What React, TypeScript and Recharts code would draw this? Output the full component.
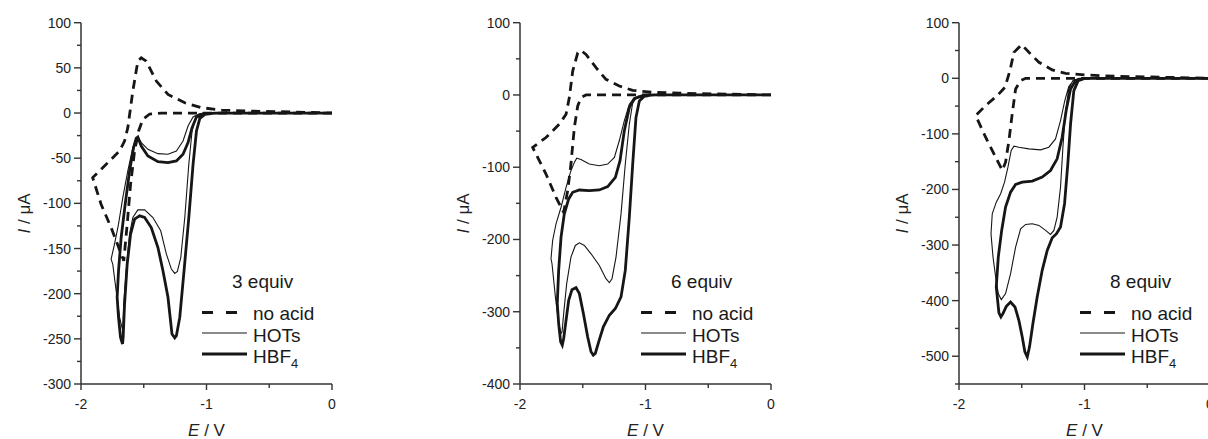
import { LineChart, Line, XAxis, YAxis, Label } from 'recharts';

type Pt = [number, number];

// E / V ticks shared by all three panels
const potentialTicks = [-2, -1.5, -1, -0.5, 0];
const potentialLabels = [-2, -1, 0];

const equivLabels = ['3 equiv', '6 equiv', '8 equiv'];

// current axes (µA)
const currentTicks3 = [-300, -275, -250, -225, -200, -175, -150, -125, -100, -75, -50, -25, 0, 25, 50, 75, 100];
const currentLabels3 = [-300, -250, -200, -150, -100, -50, 0, 50, 100];
const currentTicks6 = [-400, -350, -300, -250, -200, -150, -100, -50, 0, 50, 100];
const currentLabels6 = [-400, -300, -200, -100, 0, 100];
const currentTicks8 = [-550, -500, -450, -400, -350, -300, -250, -200, -150, -100, -50, 0, 50, 100];
const currentLabels8 = [-500, -400, -300, -200, -100, 0, 100];

// 3 equiv panel: [E, I]
const noAcid3: Pt[] = [
  [0, 0], [-1.36, 0], [-1.453, -1.1], [-1.507, -7], [-1.541, -19.9], [-1.573, -42], [-1.605, -78.9],
  [-1.632, -123], [-1.659, -163.6], [-1.76, -126.8], [-1.84, -101], [-1.907, -71.5],
  [-1.813, -58.6], [-1.693, -42], [-1.653, -31], [-1.627, -16.2], [-1.587, 24.3], [-1.547, 57.5],
  [-1.52, 61.2], [-1.48, 57.5], [-1.4, 35.4], [-1.307, 20.6], [-1.173, 11.4], [-1.04, 5.9],
  [-0.88, 3.3], [-0.667, 2.2], [-0.293, 1.1], [0, 0],
];
const hots3: Pt[] = [
  [0, 0], [-0.987, 0], [-1.053, -1.5], [-1.088, -5.9], [-1.115, -19.9], [-1.141, -56.7], [-1.173, -115.7],
  [-1.205, -160], [-1.232, -175.4], [-1.253, -177.6], [-1.28, -172.8], [-1.32, -156], [-1.365, -130.4],
  [-1.427, -115.7], [-1.493, -107.2], [-1.547, -107.2], [-1.587, -115.7], [-1.613, -134], [-1.64, -174.7],
  [-1.659, -211.5], [-1.667, -241], [-1.693, -226], [-1.72, -196.8], [-1.747, -167.3], [-1.76, -161.8],
  [-1.733, -145.2], [-1.701, -123], [-1.667, -93.6], [-1.627, -64.1], [-1.587, -38.3], [-1.56, -27.3],
  [-1.547, -26.5], [-1.52, -32.8], [-1.467, -40.2], [-1.387, -45], [-1.307, -45.7], [-1.24, -42],
  [-1.187, -31], [-1.147, -14.4], [-1.107, -4.4], [-1.053, -0.7], [-0.933, 0], [0, 0],
];
const hbf3: Pt[] = [
  [0, 0], [-0.933, 0], [-1.013, -1.5], [-1.053, -5.9], [-1.08, -19.9], [-1.107, -56.7], [-1.141, -115.7],
  [-1.179, -174.7], [-1.213, -226.3], [-1.24, -246.5], [-1.253, -249], [-1.275, -244.7], [-1.307, -204],
  [-1.347, -174.7], [-1.387, -148.9], [-1.44, -126.8], [-1.493, -115.7], [-1.533, -113.9], [-1.573, -117.5],
  [-1.605, -134], [-1.632, -167.3], [-1.653, -211.5], [-1.664, -248.4], [-1.669, -255.7], [-1.685, -248.4],
  [-1.701, -226.3], [-1.712, -204], [-1.701, -174.7], [-1.68, -137.8], [-1.648, -101], [-1.613, -64.1],
  [-1.581, -38.3], [-1.56, -28], [-1.547, -26.5], [-1.52, -36.5], [-1.467, -47.5], [-1.387, -53.8],
  [-1.307, -54.9], [-1.24, -53], [-1.187, -45.7], [-1.147, -32.8], [-1.115, -16.2], [-1.08, -4.4],
  [-1.027, -0.7], [-0.907, 0], [0, 0],
];

// 6 equiv panel
const noAcid6: Pt[] = [
  [0, 0], [-1.474, 0], [-1.514, -3.7], [-1.54, -15.2], [-1.567, -45.1], [-1.594, -95.6], [-1.62, -132.4],
  [-1.652, -162.3], [-1.713, -141.6], [-1.793, -109.4], [-1.899, -72.6],
  [-1.793, -58.9], [-1.687, -40.5], [-1.633, -26.7], [-1.607, -3.7], [-1.58, 33.1], [-1.54, 58.4],
  [-1.514, 61.6], [-1.474, 56.1], [-1.394, 37.7], [-1.315, 21.6], [-1.209, 12.4], [-1.102, 6.4],
  [-0.943, 3.7], [-0.704, 2.3], [0, 0],
];
const hots6: Pt[] = [
  [0, 0], [-0.996, 0], [-1.062, -1.8], [-1.102, -10.6], [-1.129, -40.5], [-1.161, -95.6], [-1.195, -164.6],
  [-1.235, -224.4], [-1.267, -254.3], [-1.288, -259.8], [-1.315, -254.3], [-1.368, -235.9], [-1.434, -219.8],
  [-1.487, -208.3], [-1.527, -204.6], [-1.559, -208.3], [-1.594, -224.4], [-1.628, -261.1], [-1.652, -302.5],
  [-1.665, -327.8], [-1.673, -330.1], [-1.692, -316.3], [-1.718, -279.5], [-1.745, -233.6], [-1.753, -226.7],
  [-1.74, -201.4], [-1.713, -178.4], [-1.673, -155.4], [-1.633, -127.8], [-1.594, -104.8], [-1.567, -93.3],
  [-1.548, -87.4], [-1.514, -89.2], [-1.448, -95.6], [-1.368, -97.9], [-1.301, -95.6], [-1.248, -86.4],
  [-1.209, -63.4], [-1.169, -35.9], [-1.129, -12.9], [-1.089, -3.7], [-1.023, -0.5], [-0.943, 0], [0, 0],
];
const hbf6: Pt[] = [
  [0, 0], [-0.943, 0], [-1.009, -1.8], [-1.049, -8.3], [-1.076, -31.3], [-1.102, -95.6], [-1.129, -169.2],
  [-1.161, -242.8], [-1.195, -279.5], [-1.24, -295.6], [-1.288, -304.8], [-1.336, -320.9], [-1.373, -341.6],
  [-1.4, -357.7], [-1.416, -360], [-1.434, -355.4], [-1.461, -334.7], [-1.495, -302.5], [-1.527, -274.9],
  [-1.554, -266.7], [-1.586, -269.4], [-1.612, -284.1], [-1.633, -311.7], [-1.652, -337], [-1.663, -346.2],
  [-1.676, -341.6], [-1.692, -316.3], [-1.703, -288.7], [-1.692, -242.8], [-1.673, -196.8], [-1.647, -164.6],
  [-1.612, -143.9], [-1.58, -134.7], [-1.527, -131.5], [-1.448, -132.4], [-1.368, -131.5], [-1.301, -126.9],
  [-1.24, -114], [-1.203, -91], [-1.169, -49.7], [-1.129, -17.5], [-1.089, -5.1], [-1.023, -0.9],
  [-0.916, 0], [0, 0],
];

// 8 equiv panel
const noAcid8: Pt[] = [
  [0, 0], [-1.469, 0], [-1.509, -4.2], [-1.549, -19.2], [-1.576, -64.1], [-1.602, -112], [-1.629, -150.9],
  [-1.655, -165.9], [-1.708, -141.9], [-1.788, -106], [-1.867, -67.1],
  [-1.788, -49.1], [-1.695, -31.1], [-1.634, -16.2], [-1.594, 13.8], [-1.562, 46.7], [-1.501, 60.5],
  [-1.443, 46.7], [-1.363, 28.7], [-1.257, 15], [-1.151, 9], [-0.992, 6], [-0.753, 3.6], [-0.355, 1.8], [0, 0],
];
const hots8: Pt[] = [
  [0, 0], [-1.045, 0], [-1.093, -4.2], [-1.125, -19.2], [-1.151, -58.1], [-1.172, -124], [-1.191, -195.8],
  [-1.218, -249.7], [-1.244, -273.7], [-1.271, -280.8], [-1.31, -273.7], [-1.363, -264.7], [-1.416, -261.7],
  [-1.469, -262.9], [-1.509, -270.7], [-1.549, -303.6], [-1.589, -351.5], [-1.629, -387.4], [-1.663, -398.2],
  [-1.687, -387.4], [-1.708, -357.5], [-1.729, -321.6], [-1.745, -279.6], [-1.735, -243.7], [-1.703, -222.8],
  [-1.668, -207.8], [-1.637, -186.8], [-1.61, -159.9], [-1.584, -129.9], [-1.562, -122.2], [-1.523, -124],
  [-1.443, -127], [-1.35, -128.7], [-1.284, -124], [-1.231, -109], [-1.191, -76], [-1.157, -40.1],
  [-1.125, -15], [-1.085, -3], [-1.019, 0], [0, 0],
];
const hbf8: Pt[] = [
  [0, 0], [-0.992, 0], [-1.05, -4.2], [-1.085, -22.2], [-1.111, -82], [-1.133, -153.9], [-1.159, -225.7],
  [-1.191, -267.7], [-1.223, -279.6], [-1.257, -286.8], [-1.297, -309.6], [-1.337, -345.5], [-1.377, -393.4],
  [-1.411, -441.3], [-1.438, -483.2], [-1.456, -501.2], [-1.475, -492.2], [-1.496, -465.3], [-1.523, -435.3],
  [-1.554, -411.4], [-1.589, -402.4], [-1.623, -410.2], [-1.65, -423.4], [-1.666, -429.3], [-1.682, -422.2],
  [-1.695, -393.4], [-1.703, -375.4], [-1.687, -321.6], [-1.66, -273.7], [-1.629, -231.7], [-1.589, -204.8],
  [-1.549, -191], [-1.496, -186.8], [-1.416, -185], [-1.337, -177.8], [-1.271, -165.9], [-1.218, -144.9],
  [-1.178, -106], [-1.146, -58.1], [-1.111, -19.2], [-1.072, -4.2], [-0.992, 0], [0, 0],
];

const AXIS = '#333';
const INK = '#161616';
const FONT = '"Liberation Sans", Arial, Helvetica, sans-serif';

const toRows = (pts: Pt[]) => pts.map(([e, i]) => ({ e, i }));

const panels = [
  { left: 0, axisW: 81, ticks: currentTicks3, labels: currentLabels3, domain: [-300, 100], equiv: equivLabels[0], noAcid: noAcid3, hots: hots3, hbf: hbf3 },
  { left: 400, axisW: 120, ticks: currentTicks6, labels: currentLabels6, domain: [-400, 100], equiv: equivLabels[1], noAcid: noAcid6, hots: hots6, hbf: hbf6 },
  { left: 800, axisW: 159, ticks: currentTicks8, labels: currentLabels8, domain: [-550, 100], equiv: equivLabels[2], noAcid: noAcid8, hots: hots8, hbf: hbf8 },
];

function makeYTick(labels: number[]) {
  return (props: any) => {
    const { x, y, payload } = props;
    const major = labels.includes(payload.value);
    return (
      <g>
        <line x1={x} x2={x - (major ? 7 : 4)} y1={y} y2={y} stroke={AXIS} strokeWidth={1.4} />
        {major && (
          <text x={x - 10} y={y + 5} textAnchor="end" fontSize={14} fontFamily={FONT} fill="#222">
            {payload.value}
          </text>
        )}
      </g>
    );
  };
}

function XTick(props: any) {
  const { x, y, payload } = props;
  const major = potentialLabels.includes(payload.value);
  return (
    <g>
      <line x1={x} x2={x} y1={y} y2={y + (major ? 6 : 4)} stroke={AXIS} strokeWidth={1.4} />
      {major && (
        <text x={x} y={y + 25} textAnchor="middle" fontSize={14} fontFamily={FONT} fill="#222">
          {payload.value}
        </text>
      )}
    </g>
  );
}

function Legend({ plotLeft, equiv }: { plotLeft: number; equiv: string }) {
  const lx = plotLeft + 121;
  const tx = plotLeft + 172;
  return (
    <svg width={1208} height={439} style={{ position: 'absolute', left: 0, top: 0, pointerEvents: 'none' }}>
      <g fontFamily={FONT} fontSize={19} fill="#1a1a1a">
        <text x={plotLeft + 151} y={288}>{equiv}</text>
        <line x1={lx} x2={lx + 45} y1={312.5} y2={312.5} stroke={INK} strokeWidth={3} strokeDasharray="11 13" />
        <text x={tx} y={320}>no acid</text>
        <line x1={lx} x2={lx + 45} y1={333} y2={333} stroke={INK} strokeWidth={1.2} />
        <text x={tx} y={341.5}>HOTs</text>
        <line x1={lx} x2={lx + 45} y1={354} y2={354} stroke={INK} strokeWidth={3.2} />
        <text x={tx} y={363}>
          HBF<tspan fontSize={13} dy={5}>4</tspan>
        </text>
      </g>
    </svg>
  );
}

function Panel({ p }: { p: (typeof panels)[number] }) {
  const chartW = p.axisW + 251 + 20;
  return (
    <div style={{ position: 'absolute', left: p.left, top: 0, width: chartW, height: 439 }}>
      <LineChart width={chartW} height={439} margin={{ top: 22.7, right: 20, bottom: 0, left: 0 }}>
        <XAxis
          type="number"
          dataKey="e"
          domain={[-2, 0]}
          ticks={potentialTicks}
          interval={0}
          allowDataOverflow
          height={55}
          tickSize={0}
          tickMargin={0}
          tick={XTick}
          axisLine={{ stroke: AXIS, strokeWidth: 1.5 }}
        >
          <Label
            content={(props: any) => {
              const vb = props.viewBox;
              return (
                <text x={vb.x + vb.width / 2} y={vb.y + 52} textAnchor="middle" fontSize={17} fontFamily={FONT} fill="#222">
                  <tspan fontStyle="italic">E</tspan>
                  {' / V'}
                </text>
              );
            }}
          />
        </XAxis>
        <YAxis
          type="number"
          domain={p.domain}
          ticks={p.ticks}
          interval={0}
          allowDataOverflow
          width={p.axisW}
          tickSize={0}
          tickMargin={0}
          tick={makeYTick(p.labels)}
          axisLine={{ stroke: AXIS, strokeWidth: 1.5 }}
        >
          <Label
            content={(props: any) => {
              const vb = props.viewBox;
              const cx = vb.x + vb.width - 51;
              const cy = vb.y + vb.height / 2 + 10;
              return (
                <text x={cx} y={cy} transform={`rotate(-90 ${cx} ${cy})`} textAnchor="middle" fontSize={17} fontFamily={FONT} fill="#222">
                  <tspan fontStyle="italic">I</tspan>
                  {' / μA'}
                </text>
              );
            }}
          />
        </YAxis>
        <Line data={toRows(p.noAcid)} dataKey="i" type="linear" stroke={INK} strokeWidth={2.8} strokeDasharray="9 6" dot={false} isAnimationActive={false} />
        <Line data={toRows(p.hots)} dataKey="i" type="linear" stroke={INK} strokeWidth={1.1} dot={false} isAnimationActive={false} />
        <Line data={toRows(p.hbf)} dataKey="i" type="linear" stroke={INK} strokeWidth={2.8} dot={false} isAnimationActive={false} />
      </LineChart>
      <div style={{ position: 'absolute', left: -p.left, top: 0 }}>
        <Legend plotLeft={p.left + p.axisW} equiv={p.equiv} />
      </div>
    </div>
  );
}

export default function App() {
  return (
    <div style={{ position: 'fixed', left: 0, top: 0, width: 1208, height: 439, overflow: 'hidden', background: '#fff' }}>
      {panels.map((p) => (
        <Panel key={p.equiv} p={p} />
      ))}
    </div>
  );
}
